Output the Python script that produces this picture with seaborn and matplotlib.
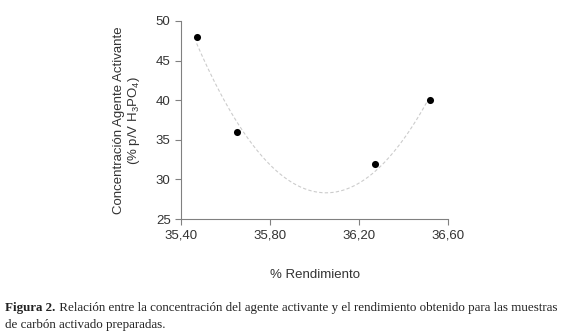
import numpy as np
import pandas as pd
import matplotlib
matplotlib.use("Agg")
import matplotlib.pyplot as plt
from matplotlib.ticker import FuncFormatter
import seaborn as sns

sns.set_style("ticks")
plt.rcParams['font.family'] = ['Liberation Sans', 'DejaVu Sans']
plt.rcParams['mathtext.fontset'] = 'custom'
plt.rcParams['mathtext.rm'] = 'Liberation Sans'
plt.rcParams['mathtext.it'] = 'Liberation Sans'

# data
rendimiento = [35.47, 35.65, 36.27, 36.52]
concentracion = [48, 36, 32, 40]
xticks = [35.40, 35.80, 36.20, 36.60]
yticks = [25, 30, 35, 40, 45, 50]

df = pd.DataFrame({'rend': rendimiento, 'conc': concentracion})

fig = plt.figure(figsize=(5.73, 3.33), dpi=100)
ax = fig.add_axes([0.316, 0.342, 0.466, 0.595])

# second order trendline
coef = np.polyfit(df['rend'], df['conc'], 2)
xs = np.linspace(df['rend'].min(), df['rend'].max(), 200)
ax.plot(xs, np.polyval(coef, xs), ls=(0, (3, 2)), color='#cccccc', lw=0.8, zorder=1)

sns.scatterplot(data=df, x='rend', y='conc', ax=ax, color='black', s=26,
                edgecolor='black', linewidth=0, zorder=3)

ax.set_xlim(35.40, 36.60)
ax.set_ylim(25, 50)
ax.set_xticks(xticks)
ax.set_yticks(yticks)
ax.xaxis.set_major_formatter(FuncFormatter(lambda v, p: f"{v:.2f}".replace('.', ',')))
sns.despine(ax=ax)
for s in ['left', 'bottom']:
    ax.spines[s].set_color('#808080')
    ax.spines[s].set_linewidth(0.8)
ax.tick_params(axis='both', colors='#808080', labelcolor='#333333', labelsize=9.5,
               length=4, width=0.8, direction='out')

ax.set_xlabel('% Rendimiento', fontsize=9.5, color='#333333', labelpad=20)
ax.set_ylabel('Concentración Agente Activante\n(% p/V H$_3$PO$_4$)', fontsize=9.5,
              color='#333333', labelpad=10, linespacing=1.1)

cap = fig.text(0.009, 0.066, 'Figura 2.', family='Liberation Serif', weight='bold',
               fontsize=9.4, color='#222222')
ax.annotate(' Relación entre la concentración del agente activante y el rendimiento obtenido para las muestras',
            xy=(1, 0), xycoords=cap, va='bottom', ha='left', family='Liberation Serif',
            fontsize=9.4, color='#222222')
fig.text(0.009, 0.014, 'de carbón activado preparadas.', family='Liberation Serif',
         fontsize=9.4, color='#222222')

fig.savefig('out.png', dpi=100)
